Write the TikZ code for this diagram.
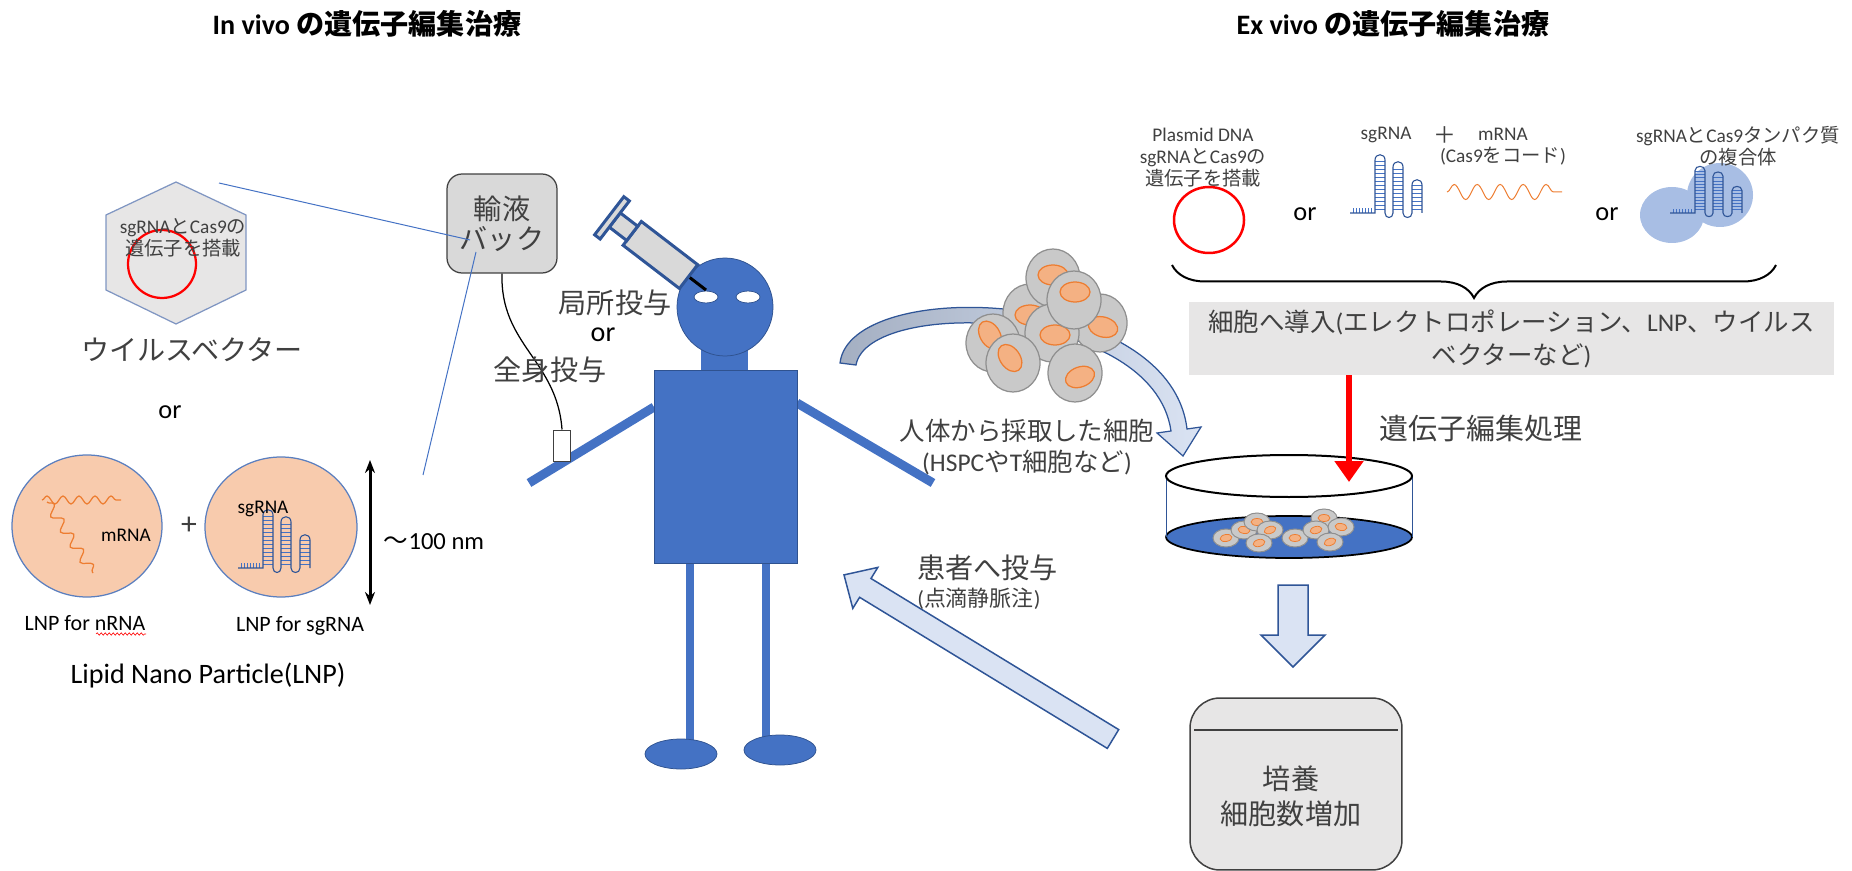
\documentclass[tikz,border=0pt]{standalone}
\usepackage{fontspec}
\setmainfont{Carlito}
\newfontfamily\jp{Noto Sans CJK JP}
\usetikzlibrary{positioning,
        arrows.meta,
        decorations.pathmorphing,
        decorations.pathreplacing}

\definecolor{figblue}{HTML}{4472C4}
\definecolor{darkblue}{HTML}{2F5597}
\definecolor{edgeblue}{HTML}{2F528F}
\definecolor{paleblue}{HTML}{DAE3F3}
\definecolor{boxgray}{HTML}{E7E6E6}
\definecolor{baggray}{HTML}{D9D9D9}
\definecolor{peach}{HTML}{F8CBAD}
\definecolor{rnaorange}{HTML}{ED7D31}
\definecolor{nucorange}{HTML}{F4B183}
\definecolor{cellgray}{HTML}{C9C9C9}
\definecolor{celledge}{HTML}{8F8F8F}
\definecolor{txtgray}{HTML}{404040}
\definecolor{hexedge}{HTML}{8096C2}
\definecolor{lnpedge}{HTML}{5B7FBF}
\definecolor{blobblue}{HTML}{A8BEE4}
\definecolor{arcgray}{HTML}{A4AFC2}

\begin{document}
\begin{tikzpicture}[x=0.02cm, y=-0.02cm,
    title/.style={inner sep=0, font=\bfseries\fontsize{16}{19}\selectfont},
    jlabel/.style={inner sep=0, align=center, text=txtgray, font=\jp\fontsize{16}{20}\selectfont},
    note/.style={inner sep=0, align=center, text=txtgray, font=\fontsize{11}{12.4}\selectfont},
    ortext/.style={inner sep=0, font=\fontsize{15}{18}\selectfont},
    lnp/.style={fill=peach, draw=lnpedge, line width=0.025cm},
    mrna/.style={draw=rnaorange, line width=0.025cm, decorate},
    cellwall/.style={fill=cellgray, draw=celledge, line width=0.025cm},
    nucleus/.style={fill=nucorange, draw=rnaorange, line width=0.025cm},
    limb/.style={draw=figblue, line width=0.18cm},
    bodypart/.style={fill=figblue, draw=edgeblue, line width=0.015cm},
    syringe/.style={fill=baggray, draw=darkblue, line width=0.06cm},
    blockarrow/.style={fill=paleblue, draw=darkblue, line width=0.03cm},
    rnaline/.style={draw=darkblue, line width=0.022cm},
    rung/.style={draw=figblue, line width=0.014cm},
    sgrna/.pic={
      \foreach \tk in {3,6,...,22} \draw[rung] (\tk,0) -- (\tk,-5);
      \foreach \rg in {-4,-8,...,-52} \draw[rung] (25,\rg) -- (35,\rg);
      \foreach \rg in {-4,-8,...,-44} \draw[rung] (43,\rg) -- (53,\rg);
      \foreach \rg in {-4,-8,...,-28} \draw[rung] (62,\rg) -- (72,\rg);
      \draw[rnaline] (0,0) -- (25,0) -- (25,-53) .. controls (25,-60) and (35,-60) .. (35,-53)
        -- (35,0) .. controls (35,6) and (43,6) .. (43,0)
        -- (43,-46) .. controls (43,-53) and (53,-53) .. (53,-46)
        -- (53,0) .. controls (53,6) and (62,6) .. (62,0)
        -- (62,-28) .. controls (62,-35) and (72,-35) .. (72,-28) -- (72,0);
    }
  ]
  \useasboundingbox (0,0) rectangle (1852,871);

  % headings
  \node[title] (invivo) at (367,24) {In vivo {\jp の遺伝子編集治療}};
  \node[title] (exvivo) at (1393,24) {Ex vivo {\jp の遺伝子編集治療}};

  % viral vector
  \draw[fill=boxgray, draw=hexedge, line width=0.025cm] (176,182) -- (246,215) -- (246,290) -- (176,324) -- (106,290) -- (106,215) -- cycle;
  \draw[red, line width=0.045cm] (162,264) circle [radius=34];
  \node[note] (vectext) at (183,238) {sgRNA{\jp と}Cas9{\jp の}\\{\jp 遺伝子を搭載}};
  \node[jlabel] (vector) at (192,350) {ウイルスベクター};
  \node[ortext] (or1) at (170,412) {or};

  % lipid nano particles
  \draw[lnp] (87,526) ellipse [x radius=75, y radius=71];
  \draw[mrna, decoration={snake, amplitude=0.08cm, segment length=0.32cm}] (42,500) -- (121,500);
  \draw[mrna, decoration={snake, amplitude=0.1cm, segment length=0.36cm}] (47,502) -- (93,573);
  \node[inner sep=0, font=\fontsize{11}{13}\selectfont] (mrnalbl) at (126,535) {mRNA};
  \node[inner sep=0, text=txtgray, font=\fontsize{18}{20}\selectfont] (plus) at (189,526) {+};
  \draw[lnp] (281,527) ellipse [x radius=76, y radius=70];
  \pic at (238,568) {sgrna};
  \node[inner sep=0, font=\fontsize{11}{13}\selectfont] (sglbl) at (263,509) {sgRNA};

  \coordinate (sizetop) at (370,460);
  \coordinate (sizebot) at (370,605);
  \draw[{Stealth[length=0.26cm, width=0.2cm]}-{Stealth[length=0.26cm, width=0.2cm]}, line width=0.06cm] (sizetop) -- (sizebot);
  \node[inner sep=0, font=\fontsize{14}{16}\selectfont] (size) at (434,542) {{\jp ～}100 nm};

  \node[inner sep=0, font=\fontsize{12.5}{15}\selectfont] (lnpm) at (85,623) {LNP for nRNA};
  \draw[red, line width=0.012cm, decorate, decoration={snake, amplitude=0.025cm, segment length=0.08cm}] (96,634) -- (146,634);
  \node[inner sep=0, font=\fontsize{12.5}{15}\selectfont] (lnps) at (300,626) {LNP for sgRNA};
  \node[inner sep=0, font=\fontsize{16}{19}\selectfont] (lnpname) at (208,675) {Lipid Nano Particle(LNP)};

  % patient
  \draw[limb] (654,407) -- (529,483);
  \draw[limb] (797,403) -- (933,483);
  \node[draw=txtgray, fill=white, line width=0.02cm, minimum width=0.34cm, minimum height=0.64cm, inner sep=0] (ivport) at (562,446) {};
  \node[rounded corners=0.3cm, fill=baggray, draw=txtgray, line width=0.025cm, minimum width=2.2cm, minimum height=1.98cm,
        align=center, text=txtgray, font=\jp\fontsize{16}{17}\selectfont] (bag) at (502,223.5) {輸液\\バック};
  \draw[line width=0.025cm] (bag.south) .. controls (500,345) and (557,360) .. (ivport.north);

  \fill[figblue] (686,560) rectangle (694,745);
  \fill[figblue] (762,560) rectangle (770,740);
  \draw[bodypart] (681,754) ellipse [x radius=36, y radius=15];
  \draw[bodypart] (780,750) ellipse [x radius=36, y radius=15];
  \fill[figblue] (701,345) rectangle (748,372);
  \draw[bodypart] (654,370) rectangle (797,563);
  \draw[bodypart] (725,307) ellipse [x radius=48, y radius=49];
  \draw[fill=white, draw=edgeblue, line width=0.015cm] (706,297) ellipse [x radius=12, y radius=6];
  \draw[fill=white, draw=edgeblue, line width=0.015cm] (748,297) ellipse [x radius=12, y radius=6];

  % syringe, needle tip at the head
  \begin{scope}[shift={(706,290)}, rotate=142.5]
    \draw[line width=0.06cm] (0,0) -- (24,0);
    \draw[syringe] (22,-15) rectangle (93,15);
    \draw[syringe] (93,-9) rectangle (115,9);
    \draw[syringe] (115,-24) rectangle (122,24);
  \end{scope}

  \node[jlabel] (local) at (615,303) {局所投与};
  \node[inner sep=0, font=\fontsize{16}{19}\selectfont] (or2) at (603,335) {or};
  \node[jlabel] (systemic) at (550,370) {全身投与};

  % what goes into the bag
  \coordinate (vecA) at (219,183);
  \coordinate (bagA) at (470,240);
  \coordinate (bagB) at (476,252);
  \coordinate (lnpA) at (423,475);
  \draw[figblue, line width=0.02cm] (vecA) -- (bagA);
  \draw[figblue, line width=0.02cm] (bagB) -- (lnpA);

  % harvested cells
  \draw[left color=arcgray, right color=paleblue, draw=darkblue, line width=0.025cm]
    (840,363) .. controls (850,276) and (1170,286) .. (1187,429) -- (1201,427) -- (1183,456) -- (1157,433) -- (1171,431)
    .. controls (1153,306) and (868,297) .. (856,365) -- cycle;
  \foreach \cx/\cy/\nx/\ny/\na in {1030/313/1030/315/0, 1053/278/1053/275/0, 1100/323/1103/327/-15, 1052/333/1055/335/0,
      1074/300/1075/292/0, 993/343/990/335/-60, 1013/363/1010/358/-55, 1075/373/1080/377/20}
  {
    \draw[cellwall] (\cx,\cy) ellipse [x radius=27, y radius=29];
    \draw[nucleus, rotate around={\na:(\nx,\ny)}] (\nx,\ny) ellipse [x radius=15, y radius=10];
  }
  \node[inner sep=0, align=center, text=txtgray, font=\fontsize{14.5}{17.6}\selectfont] (harvest) at (1027,447)
    {{\jp 人体から採取した細胞}\\(HSPC{\jp や}T{\jp 細胞など})};

  % payloads for ex vivo editing
  \node[note] (plasmid) at (1203,157.5) {Plasmid DNA\\sgRNA{\jp と}Cas9{\jp の}\\{\jp 遺伝子を搭載}};
  \draw[red, line width=0.05cm] (1209,220) ellipse [x radius=35, y radius=33];
  \node[ortext] (or3) at (1305,214) {or};
  \node[note] (sgtop) at (1386,135) {sgRNA};
  \node[inner sep=0, text=txtgray, font=\jp\fontsize{13}{15}\selectfont] (plus2) at (1445,135) {＋};
  \node[note] (mrnatop) at (1503,146.5) {mRNA\\(Cas9{\jp をコード})};
  \pic at (1350,213) {sgrna};
  \draw[mrna, line width=0.02cm, decoration={snake, amplitude=0.15cm, segment length=0.46cm}] (1447,192) -- (1562,192);
  \node[ortext] (or4) at (1607,214) {or};
  \fill[blobblue] (1672,215) ellipse [x radius=32, y radius=28];
  \fill[blobblue] (1720,195) ellipse [x radius=33, y radius=32];
  \pic[yscale=0.8] at (1670,213) {sgrna};
  \node[note] (complex) at (1738,146.5) {sgRNA{\jp と}Cas9{\jp タンパク質}\\{\jp の複合体}};

  \draw[line width=0.04cm, decorate, decoration={brace, amplitude=0.66cm}] (1776,265) -- (1172,265);
  \node[fill=boxgray, minimum width=12.9cm, minimum height=1.46cm, inner sep=0, align=center, text=txtgray,
        font=\fontsize{14.5}{18.8}\selectfont] (intro) at (1511.5,338.5)
    {{\jp 細胞へ導入}({\jp エレクトロポレーション、}LNP{\jp 、ウイルス}\\{\jp ベクターなど})};

  % dish
  \draw[fill=figblue, draw=black, line width=0.035cm] (1289,537) ellipse [x radius=123, y radius=21];
  \foreach \sx/\sy/\sa in {1226/538/10, 1244/530/-10, 1257/522/0, 1270/530/20, 1259/543/15,
      1295/538/0, 1324/518/0, 1316/530/15, 1341/527/-10, 1330/542/20}
  {
    \draw[cellwall, line width=0.02cm] (\sx,\sy) ellipse [x radius=13, y radius=9];
    \draw[nucleus, line width=0.015cm, rotate around={\sa:(\sx,\sy)}] (\sx,\sy) ellipse [x radius=6, y radius=3.5];
  }
  \draw[darkblue, line width=0.02cm] (1166,476) -- (1166,537) (1412,476) -- (1412,537);
  \draw[line width=0.04cm] (1289,476) ellipse [x radius=123, y radius=21];

  \coordinate (edit) at (1349,482);
  \draw[red, line width=0.12cm, -{Triangle[width=0.56cm, length=0.42cm]}] (intro.south -| edit) -- (edit);
  \node[jlabel, font=\jp\fontsize{16.5}{20}\selectfont] (editlbl) at (1481,428) {遺伝子編集処理};

  % expansion
  \draw[blockarrow] (1278,585) -- (1308,585) -- (1308,635) -- (1325,635) -- (1293,667) -- (1261,635) -- (1278,635) -- cycle;
  \node[fill=boxgray, draw=txtgray, line width=0.03cm, rounded corners=0.6cm, minimum width=4.24cm, minimum height=3.44cm] (culture) at (1296,784) {};
  \draw[txtgray, line width=0.03cm] (1194,730) -- (1398,730);
  \node[jlabel] (culturetext) at (1291,796) {培養\\細胞数増加};

  % back to the patient
  \draw[blockarrow] (1118.7,729.6) -- (871,578.5) -- (877.8,567.4) -- (844,574.9) -- (852.8,608.4) -- (859.6,597.3) -- (1107.3,748.4) -- cycle;
  \node[jlabel, anchor=west] (give) at (917,568) {患者へ投与};
  \node[inner sep=0, anchor=west, text=txtgray, font=\fontsize{12.5}{15}\selectfont] (drip) at (917,599) {({\jp 点滴静脈注})};
\end{tikzpicture}
\end{document}
